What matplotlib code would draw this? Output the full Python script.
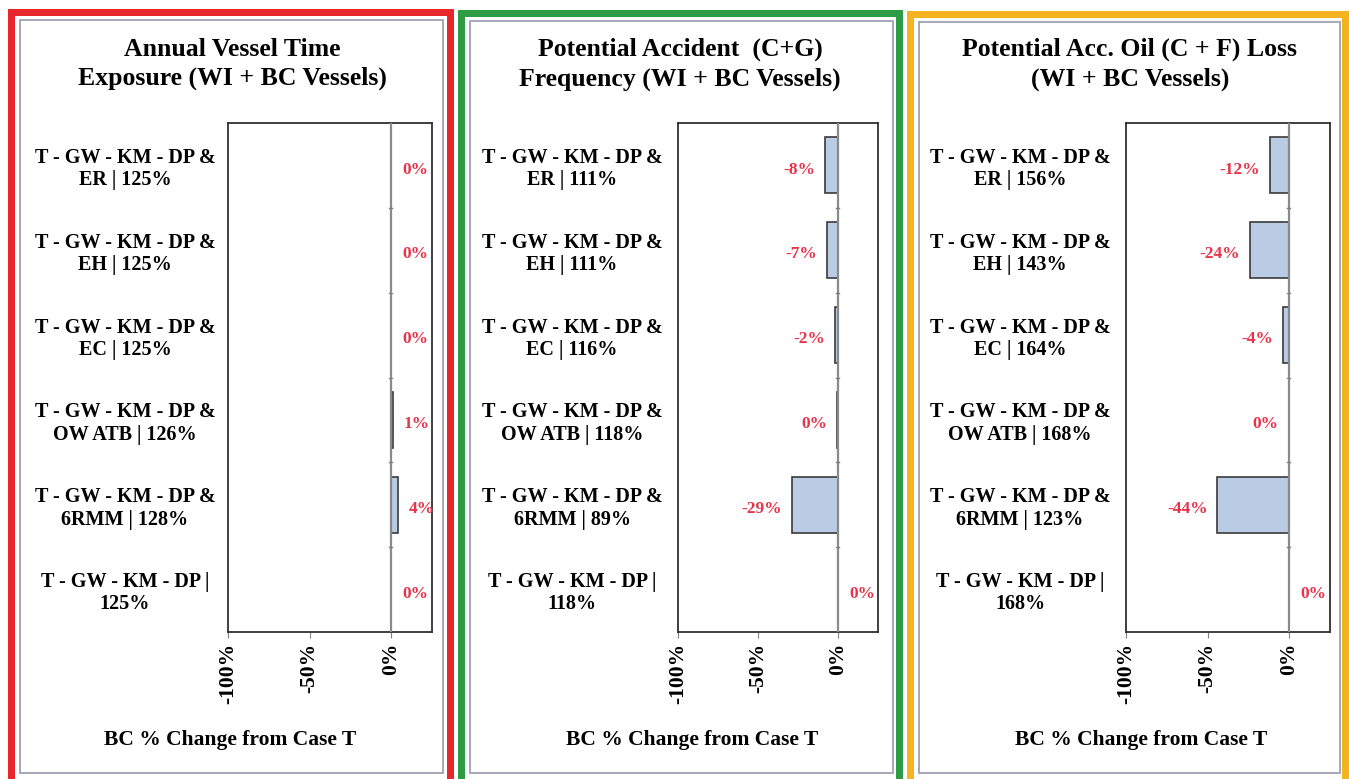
import matplotlib
matplotlib.use("Agg")
import matplotlib.pyplot as plt
from matplotlib.patches import Rectangle

W, H = 1349, 779

categories = [
    "T - GW - KM - DP &\nER | {}",
    "T - GW - KM - DP &\nEH | {}",
    "T - GW - KM - DP &\nEC | {}",
    "T - GW - KM - DP &\nOW ATB | {}",
    "T - GW - KM - DP &\n6RMM | {}",
    "T - GW - KM - DP |\n{}",
]

titles = [
    "Annual Vessel Time\nExposure (WI + BC Vessels)",
    "Potential Accident  (C+G)\nFrequency (WI + BC Vessels)",
    "Potential Acc. Oil (C + F) Loss\n(WI + BC Vessels)",
]

ratios_1 = ["125%", "125%", "125%", "126%", "128%", "125%"]
ratios_2 = ["111%", "111%", "116%", "118%", "89%", "118%"]
ratios_3 = ["156%", "143%", "164%", "168%", "123%", "168%"]

change_1 = [0, 0, 0, 1, 4, 0]
change_2 = [-8, -7, -2, -0.4, -29, 0]
change_3 = [-12, -24, -4, -0.4, -44, 0]

x_ticks = [-100, -50, 0]
x_tick_labels = ["-100%", "-50%", "0%"]
x_label = "BC % Change from Case T"

ratios = [ratios_1, ratios_2, ratios_3]
changes = [change_1, change_2, change_3]

SERIF = ["Liberation Serif", "DejaVu Serif"]
plt.rcParams["font.family"] = SERIF

fig = plt.figure(figsize=(W / 100, H / 100), dpi=100)

def fx(px):
    return px / W

def fy(py):
    return 1 - py / H

# frames
frames = [
    (8, 453, 8, "#e8262b"),
    (457, 902, 9, "#2e9b45"),
    (906, 1348, 10, "#f5b320"),
]
for x0, x1, y0, col in frames:
    lw = 7
    fig.add_artist(Rectangle((fx(x0 + lw / 2), fy(790)), fx(x1 - x0 - lw), (790 - y0 - lw / 2) / H,
                             transform=fig.transFigure, fill=False, edgecolor=col,
                             linewidth=lw * 0.72, zorder=0))
inner = [(20, 443, 20), (470, 893, 21), (919, 1340, 22)]
for x0, x1, y0 in inner:
    fig.add_artist(Rectangle((fx(x0), fy(773)), fx(x1 - x0), (773 - y0) / H,
                             transform=fig.transFigure, fill=False, edgecolor="#a0a0b8",
                             linewidth=1.3, zorder=0))

axes_px = [(228, 432), (678, 878), (1126, 1330)]
title_cx = [232, 680, 1130]
label_cx = [125, 572, 1020]
xlabel_cx = [230, 692, 1141]
top_px, bot_px = 123, 632

for i in range(3):
    l, r = axes_px[i]
    ax = fig.add_axes([fx(l), fy(bot_px), fx(r - l), (bot_px - top_px) / H])
    vals = changes[i]
    n = len(vals)
    y = list(range(n))
    ax.barh(y, vals, height=0.66, color="#b9cce4", edgecolor="#3a3a3a", linewidth=1.2, zorder=2)
    ax.set_xlim(-100, 25)
    ax.set_ylim(n - 0.5, -0.5)
    ax.axvline(0, color="#8a8a8a", linewidth=1.6, zorder=3)
    # small ticks on the zero line between categories
    for b in range(1, n):
        ax.plot([-1.5, 0.5], [b - 0.5, b - 0.5], color="#808080", linewidth=1, zorder=3)
    for yy, v in zip(y, vals):
        txt = f"{round(v):d}%"
        if v > 0 or (v == 0 and (i == 0 or yy == n - 1)):
            ax.annotate(txt, (max(v, 0), yy), xytext=(8, -3),
                        textcoords="offset points", ha="left", va="center",
                        color="#e8334a", fontsize=12.5, fontweight="bold")
        else:
            ax.annotate(txt, (v, yy), xytext=(-7, -3), textcoords="offset points",
                        ha="right", va="center", color="#e8334a", fontsize=12.5,
                        fontweight="bold")
    ax.set_yticks(y)
    labels = [c.format(rv) for c, rv in zip(categories, ratios[i])]
    ax.set_yticklabels(labels, fontsize=14.5, fontweight="bold", ha="center",
                       multialignment="center", linespacing=1.15)
    ax.tick_params(axis="y", length=0, pad=(l - label_cx[i]) * 0.72)
    for t in ax.get_yticklabels():
        t.set_y(t.get_position()[1])
    ax.set_xticks(x_ticks)
    ax.set_xticklabels(x_tick_labels, rotation=90, fontsize=15.5, fontweight="bold")
    ax.tick_params(axis="x", length=4, color="#808080", pad=4)
    for s in ax.spines.values():
        s.set_color("#303030")
        s.set_linewidth(1.3)
    fig.text(fx(title_cx[i]), fy(64), titles[i], ha="center", va="center",
             fontsize=18.5, fontweight="bold", linespacing=1.35)
    fig.text(fx(xlabel_cx[i]), fy(740), x_label, ha="center", va="center",
             fontsize=15.5, fontweight="bold")

fig.savefig("out.png", dpi=100, facecolor="white")
